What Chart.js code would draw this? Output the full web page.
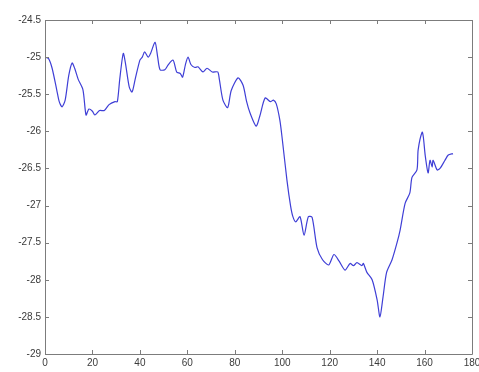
<!DOCTYPE html>
<html>
<head>
<meta charset="utf-8">
<script src="https://cdn.jsdelivr.net/npm/chart.js@4/dist/chart.umd.min.js"></script>
<style>
  html, body { margin: 0; padding: 0; background: #ffffff; }
  canvas { display: block; }
</style>
</head>
<body>
<canvas id="c" width="479" height="372"></canvas>
<script>
// Sample positions and measured values of the trace
const sampleX = [
  0, 1.5, 3, 5, 6, 7.2, 8.5, 10, 11.4, 12.5, 14, 16, 17.3, 18.5, 20, 21, 23, 25, 27, 29.5,
  30.5, 31.5, 33, 34, 35.5, 36.7, 38, 40, 41, 42, 43.5, 44.5, 46.4, 47.5, 48.5, 50.5, 52, 54,
  55.5, 57, 58, 59.2, 60.3, 61.5, 63.2, 64.5, 66.6, 68.3, 70.5, 72.8, 73.5, 75, 77, 78.5, 81.4,
  83.5, 85, 86.4, 89, 90.5, 92.8, 95, 96.3, 97.5, 99, 100, 102, 103.5, 104.5, 105.7, 107.5,
  109.2, 111, 112.6, 114.7, 117, 119.6, 121.8, 124, 126.5, 128.6, 130, 131.5, 133.6, 134.2,
  135.7, 137.9, 140, 141.2, 142.5, 144, 146.3, 148.4, 149.7, 151.8, 153.8, 154.7, 156.8, 157.3,
  159, 159.5, 160.3, 161.5, 162.3, 163.2, 163.6, 165.3, 166.5, 168.6, 170, 172
];
const sampleY = [
  -25.0, -25.02, -25.15, -25.45, -25.6, -25.67, -25.58, -25.25, -25.08, -25.15, -25.3, -25.44,
  -25.78, -25.7, -25.73, -25.78, -25.72, -25.72, -25.64, -25.6,
  -25.6, -25.3, -24.95, -25.1, -25.4, -25.47, -25.3, -25.04, -25.0, -24.93, -25.0, -24.95,
  -24.8, -25.0, -25.17, -25.17, -25.1, -25.04,
  -25.2, -25.22, -25.27, -25.1, -25.0, -25.1, -25.14, -25.13, -25.2, -25.15, -25.2, -25.2,
  -25.3, -25.58, -25.68, -25.45, -25.28,
  -25.38, -25.6, -25.75, -25.93, -25.8, -25.55, -25.6, -25.58, -25.63, -25.85, -26.1, -26.66,
  -27.0, -27.15, -27.22, -27.15,
  -27.4, -27.15, -27.16, -27.57, -27.73, -27.8, -27.66, -27.75, -27.87, -27.78, -27.81, -27.77,
  -27.81, -27.78,
  -27.9, -28.0, -28.27, -28.5, -28.23, -27.9, -27.73, -27.5, -27.33, -26.97, -26.83, -26.62,
  -26.52, -26.25,
  -26.01, -26.08, -26.33, -26.56, -26.39, -26.48, -26.39, -26.52, -26.5, -26.39, -26.32, -26.3
];

// Axis ranges and tick spacing
const xRange = [0, 180];
const xStep = 20;
const yRange = [-29, -24.5];
const yStep = 0.5;

const axisColor = '#7c7c7c';
const labelColor = '#3a3a3a';
const labelFont = { family: 'Liberation Sans, Arial, sans-serif', size: 10 };

// Closed frame with inward tick marks on all four sides
const framePlugin = {
  id: 'frame',
  afterDraw(chart) {
    const { ctx, chartArea: a, scales } = chart;
    const len = 4;
    ctx.save();
    ctx.strokeStyle = axisColor;
    ctx.lineWidth = 1;
    ctx.beginPath();
    ctx.rect(Math.round(a.left) + 0.5, Math.round(a.top) + 0.5,
             Math.round(a.right - a.left), Math.round(a.bottom - a.top));
    ctx.stroke();
    ctx.beginPath();
    scales.x.ticks.forEach(t => {
      const px = Math.round(scales.x.getPixelForValue(t.value)) + 0.5;
      ctx.moveTo(px, a.bottom); ctx.lineTo(px, a.bottom - len);
      ctx.moveTo(px, a.top); ctx.lineTo(px, a.top + len);
    });
    scales.y.ticks.forEach(t => {
      const py = Math.round(scales.y.getPixelForValue(t.value)) + 0.5;
      ctx.moveTo(a.left, py); ctx.lineTo(a.left + len, py);
      ctx.moveTo(a.right, py); ctx.lineTo(a.right - len, py);
    });
    ctx.stroke();
    ctx.restore();
  }
};

new Chart(document.getElementById('c'), {
  type: 'line',
  data: {
    datasets: [{
      data: sampleX.map((x, i) => ({ x, y: sampleY[i] })),
      borderColor: '#3f3fd6',
      borderWidth: 1.2,
      pointRadius: 0,
      tension: 0.25,
      fill: false
    }]
  },
  options: {
    responsive: false,
    devicePixelRatio: 1,
    animation: false,
    parsing: false,
    layout: { autoPadding: false, padding: { top: 20, right: 7, left: 0, bottom: 0 } },
    plugins: { legend: { display: false }, tooltip: { enabled: false } },
    scales: {
      x: {
        type: 'linear',
        min: xRange[0], max: xRange[1],
        afterFit(s) { s.height = 18; s.paddingLeft = 0; s.paddingRight = 0; },
        grid: { display: false, drawTicks: false },
        border: { display: false },
        ticks: { stepSize: xStep, color: labelColor, font: labelFont, padding: 3, maxRotation: 0 }
      },
      y: {
        type: 'linear',
        min: yRange[0], max: yRange[1],
        afterFit(s) { s.width = 45; s.paddingTop = 0; s.paddingBottom = 0; },
        grid: { display: false, drawTicks: false },
        border: { display: false },
        ticks: {
          stepSize: yStep, color: labelColor, font: labelFont, padding: 4,
          callback: v => String(Math.round(v * 10) / 10)
        }
      }
    }
  },
  plugins: [framePlugin]
});
</script>
</body>
</html>
